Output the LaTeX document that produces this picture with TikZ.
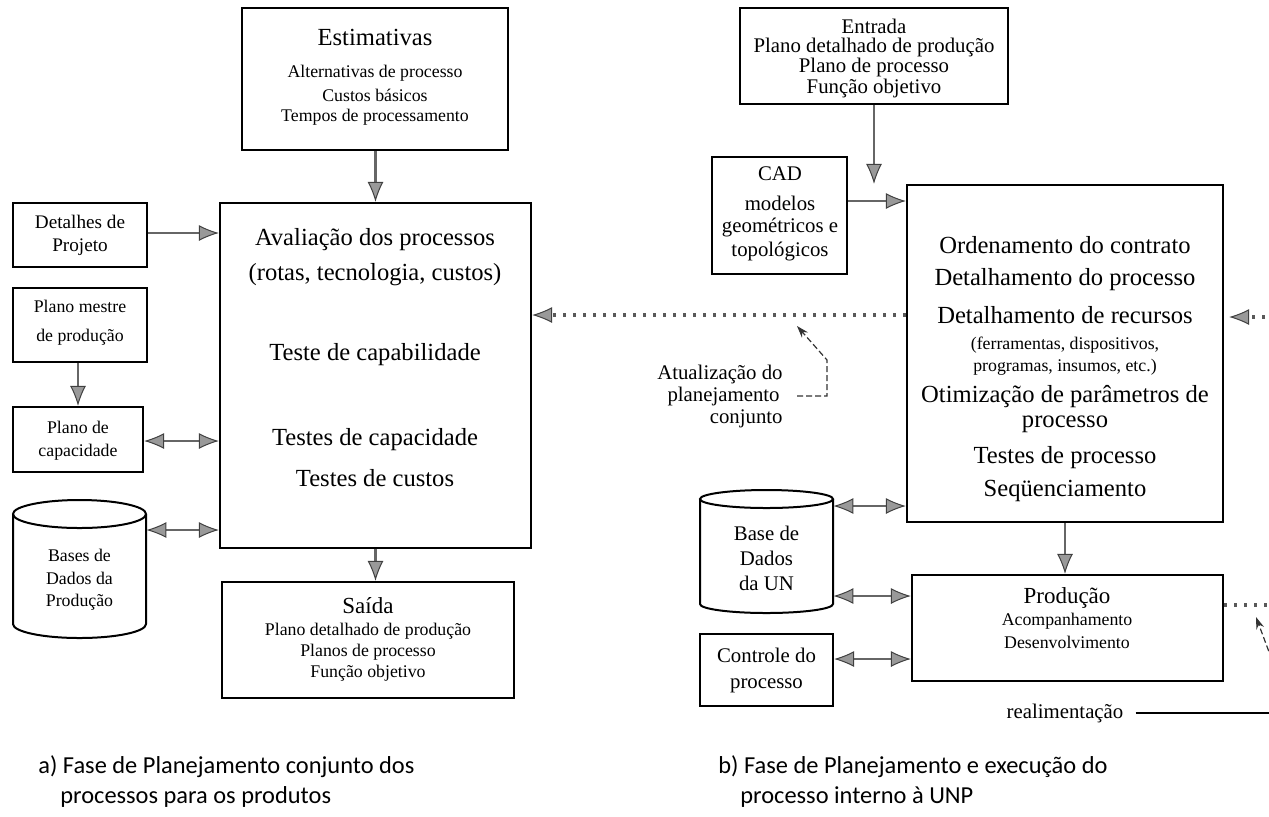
\documentclass[tikz,border=0pt]{standalone}
\usepackage{fontspec}
\setmainfont{Liberation Serif}
\newfontfamily\capfont{Carlito}
\usetikzlibrary{arrows.meta,fit,calc}
\newcommand\fbig{\fontsize{12.3}{15}\selectfont}
\newcommand\fttl{\fontsize{11.5}{14}\selectfont}
\newcommand\fmid{\fontsize{9.6}{12}\selectfont}
\newcommand\frsm{\fontsize{10.4}{13}\selectfont}
\newcommand\fsml{\fontsize{8.9}{11}\selectfont}
\newcommand\fcap{\capfont\fontsize{12.2}{15}\selectfont}
\tikzset{
  box/.style={draw, line width=1.1pt, inner sep=0pt},
  cyl/.style={draw, line width=1pt},
  tb/.style={inner sep=0pt, font=\fbig},
  tt/.style={inner sep=0pt, font=\fttl},
  tm/.style={inner sep=0pt, font=\fmid},
  tr/.style={inner sep=0pt, font=\frsm},
  ts/.style={inner sep=0pt, font=\fsml},
  tipH/.tip={Latex[length=10pt,width=8pt,fill=black!40,color=black!75,line width=0.5pt]},
  harr/.style={draw=black!60, line width=1.4pt, -tipH},
  hdarr/.style={draw=black!60, line width=1.4pt, tipH-tipH},
  dotarr/.style={draw=black!65, line width=1.6pt, dash pattern=on 1.6pt off 3.4pt, -tipH},
  lead/.style={draw=black!80, line width=0.6pt, dash pattern=on 3pt off 1.5pt},
}
\begin{document}
\begin{tikzpicture}[x=0.5pt,y=-0.5pt]
\useasboundingbox (0,0) rectangle (1269,816);
\clip (0,0) rectangle (1269,816);

% ---------------- a) joint planning phase ----------------
\node[box, fit={(242,8)(508,150)}] (est) {};
\node[tb] (est1) at (375,37) {Estimativas};
\node[ts] (est2) at (375,73) {Alternativas de processo};
\node[ts] (est3) at (375,95) {Custos básicos};
\node[ts] (est4) at (375,117) {Tempos de processamento};

\node[box, fit={(220,203)(531,548)}] (aval) {};
\node[tb] (av1) at (375,240) {Avaliação dos processos};
\node[tb] (av2) at (375,275) {(rotas, tecnologia, custos)};
\node[tb] (av3) at (375,355) {Teste de capabilidade};
\node[tb] (av4) at (375,440) {Testes de capacidade};
\node[tb] (av5) at (375,478) {Testes de custos};

\node[box, fit={(13,203)(147,267)}] (det) {};
\node[tm] (det1) at (80,222) {Detalhes de};
\node[tm] (det2) at (80,247) {Projeto};

\node[box, fit={(13,288)(147,362)}] (pm) {};
\node[ts] (pm1) at (80,306) {Plano mestre};
\node[ts] (pm2) at (80,337) {de produção};

\node[box, fit={(13,407)(143,472)}] (pc) {};
\node[ts] (pc1) at (78,427) {Plano de};
\node[ts] (pc2) at (78,452) {capacidade};

% production database (cylinder)
\draw[cyl] (13,514) -- (13,624) arc[start angle=180,end angle=0,x radius=66.5,y radius=14] -- (146,514);
\draw[cyl] (79.5,514) ellipse[x radius=66.5,y radius=14];
\node[inner sep=0pt, fit={(13,500)(146,638)}] (bdp) {};
\node[ts] (bdp1) at (79.5,555) {Bases de};
\node[ts] (bdp2) at (79.5,578) {Dados da};
\node[ts] (bdp3) at (79.5,602) {Produção};

\node[box, fit={(222,582)(514,698)}] (sai) {};
\node[tt] (sai1) at (368,606) {Saída};
\node[ts] (sai2) at (368,631) {Plano detalhado de produção};
\node[ts] (sai3) at (368,652) {Planos de processo};
\node[ts] (sai4) at (368,673) {Função objetivo};

\draw[harr] (est.south -| aval.north) -- (aval.north);
\draw[harr] (det.east |- 0,233) -- (aval.west |- 0,233);
\draw[harr] (pm.south -| 78,0) -- (pc.north -| 78,0);
\draw[hdarr] (pc.east |- 0,441) -- (aval.west |- 0,441);
\draw[hdarr] (bdp.east |- 0,530) -- (aval.west |- 0,530);
\draw[harr] (aval.south) -- (aval.south |- sai.north);

% ---------------- b) planning and execution phase ----------------
\node[box, fit={(740,8)(1008,104)}] (ent) {};
\node[tr] (ent1) at (874,26) {Entrada};
\node[tr] (ent2) at (874,47) {Plano detalhado de produção};
\node[tr] (ent3) at (874,67) {Plano de processo};
\node[tr] (ent4) at (874,88) {Função objetivo};

\node[box, fit={(712,157)(847,274)}] (cad) {};
\node[tr] (cad1) at (780,174) {CAD};
\node[tr] (cad2) at (780,203) {modelos};
\node[tr] (cad3) at (780,228) {geométricos e};
\node[tr] (cad4) at (780,252) {topológicos};

\node[box, fit={(907,185)(1223,522)}] (mr) {};
\node[tb] (mr1) at (1065,245) {Ordenamento do contrato};
\node[tb] (mr2) at (1065,280) {Detalhamento do processo};
\node[tb] (mr3) at (1065,315) {Detalhamento de recursos};
\node[ts] (mr4) at (1065,345) {(ferramentas, dispositivos,};
\node[ts] (mr5) at (1065,367) {programas, insumos, etc.)};
\node[tb] (mr6) at (1065,397) {Otimização de parâmetros de};
\node[tb] (mr7) at (1065,424) {processo};
\node[tb] (mr8) at (1065,458) {Testes de processo};
\node[tb] (mr9) at (1065,491) {Seqüenciamento};

% business unit database (cylinder)
\draw[cyl] (700,499) -- (700,604) arc[start angle=180,end angle=0,x radius=66.5,y radius=9] -- (833,499);
\draw[cyl] (766.5,499) ellipse[x radius=66.5,y radius=9];
\node[inner sep=0pt, fit={(700,490)(833,613)}] (bdu) {};
\node[tr] (bdu1) at (766.5,533) {Base de};
\node[tr] (bdu2) at (766.5,558) {Dados};
\node[tr] (bdu3) at (766.5,583) {da UN};

\node[box, fit={(912,575)(1223,681)}] (prod) {};
\node[tt] (prod1) at (1067,598) {Produção};
\node[ts] (prod2) at (1067,621) {Acompanhamento};
\node[ts] (prod3) at (1067,642) {Desenvolvimento};

\node[box, fit={(700,634)(833,706)}] (ctl) {};
\node[tr] (ctl1) at (766.5,655) {Controle do};
\node[tr] (ctl2) at (766.5,686) {processo};

\draw[harr] (ent.south) -- (ent.south |- mr.north);
\draw[harr] (cad.east |- 0,201) -- (mr.west |- 0,201);
\draw[harr] (mr.south) -- (mr.south |- prod.north);
\draw[hdarr] (bdu.east |- 0,506) -- (mr.west |- 0,506);
\draw[hdarr] (bdu.east |- 0,596) -- (prod.west |- 0,596);
\draw[hdarr] (ctl.east |- 0,659) -- (prod.west |- 0,659);

% update of the joint planning (feeds back to phase a)
\draw[dotarr] (mr.west |- 0,315) -- (aval.east |- 0,315);
\node[tr, anchor=east] (at1) at (783,374) {Atualização do};
\node[tr, anchor=east] (at2) at (780,396) {planejamento};
\node[tr, anchor=east] (at3) at (783,419) {conjunto};
\coordinate (atk0) at (797,396);
\coordinate (atk2) at (827,396);
\coordinate (atk1) at (827,360);
\coordinate (attip) at (797,326);
\draw[lead, -{Stealth[length=6pt,width=4pt]}] (atk0) -- (atk2) -- (atk1) -- (attip);

% feedback entering from the right side
\coordinate (fbin) at (1285,317);
\draw[dotarr] (fbin) -- ([xshift=2.5pt]mr.east |- 0,317);
\coordinate (fbout) at (1285,605);
\draw[draw=black!65, line width=1.6pt, dash pattern=on 1.6pt off 3.4pt] (prod.east |- 0,605) -- (fbout);
\coordinate (fbl) at (1275,668);
\draw[lead, -{Stealth[length=6pt,width=4pt]}] (fbl) -- (1256,617);
\node[inner sep=0pt, font=\frsm] (real) at (1065,713) {realimentação};
\coordinate (realend) at (1285,713);
\draw[line width=0.7pt] ([xshift=6pt]real.east) -- (realend);

% captions
\node[inner sep=0pt, anchor=west, font=\fcap] (capa1) at (38,767) {a) Fase de Planejamento conjunto dos};
\node[inner sep=0pt, anchor=west, font=\fcap] (capa2) at (60,797) {processos para os produtos};
\node[inner sep=0pt, anchor=west, font=\fcap] (capb1) at (718,767) {b) Fase de Planejamento e execução do};
\node[inner sep=0pt, anchor=west, font=\fcap] (capb2) at (740,797) {processo interno à UNP};
\end{tikzpicture}
\end{document}
